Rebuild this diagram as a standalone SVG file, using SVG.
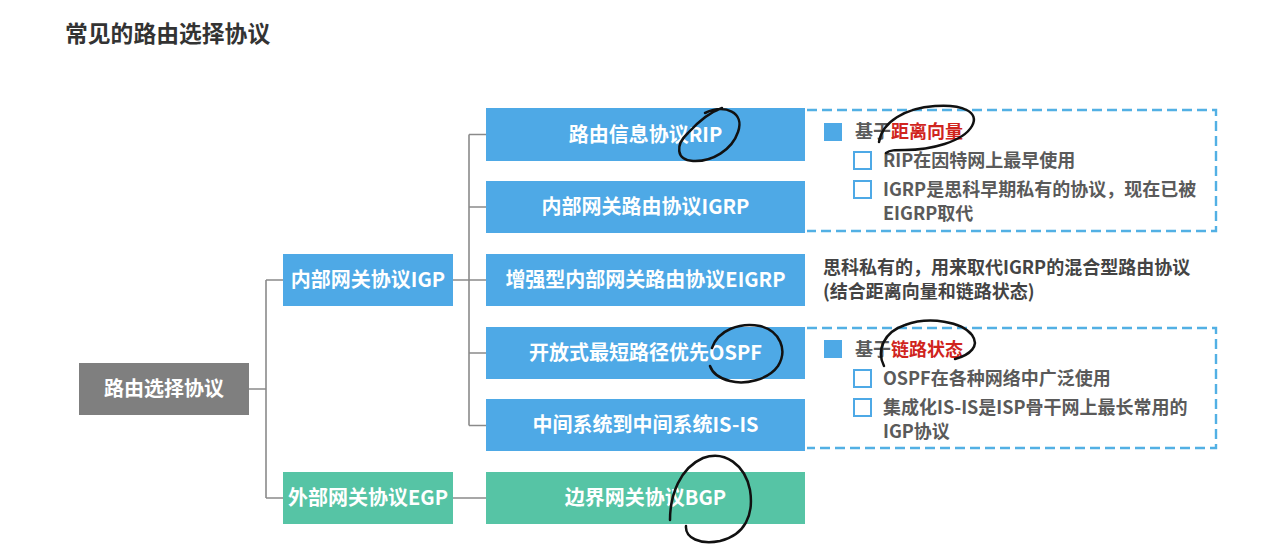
<svg xmlns="http://www.w3.org/2000/svg" width="1280" height="557" viewBox="0 0 1280 557">
<style>
text{font-family:"Noto Sans CJK SC","Noto Sans",sans-serif;font-weight:bold}
.lbl{fill:#ffffff;font-size:20px;text-anchor:middle}
.blue{fill:#4ea9e6}
.teal{fill:#56c4a5}
.note{fill:#5a5a5a;font-size:18px}
.red{fill:#d0241d}
.dash{fill:none;stroke:#52b0e4;stroke-width:2.4;stroke-dasharray:10 5}
.hol{fill:#fff;stroke:#4ea9e6;stroke-width:2}
.ink{fill:none;stroke:#111;stroke-width:2.5;stroke-linecap:round;stroke-linejoin:round}
.con{fill:none;stroke:#8a8a8a;stroke-width:1.6}
</style>
<rect width="1280" height="557" fill="#ffffff"/>
<text x="65" y="42" style="font-size:22.8px;fill:#333">常见的路由选择协议</text>

<g id="connectors">
<path class="con" d="M249,389 H266 M266,280 V498 M266,280 H283 M266,498 H283"/>
<path class="con" d="M453,280 H469 M469,134.5 V425.5 M469,134.5 H486 M469,207 H486 M469,280 H486 M469,353 H486 M469,425.5 H486"/>
<path class="con" d="M453,498 H486"/>
</g>

<g id="root"><rect x="79" y="363" width="170" height="52" fill="#7f7f7f"/><text class="lbl" x="164" y="396">路由选择协议</text></g>
<g id="igp"><rect class="blue" x="283" y="254" width="170" height="52"/><text class="lbl" x="368" y="287">内部网关协议IGP</text></g>
<g id="egp"><rect class="teal" x="283" y="472" width="170" height="52"/><text class="lbl" x="368" y="505">外部网关协议EGP</text></g>

<g id="rip"><rect class="blue" x="486" y="108" width="319" height="53"/><text class="lbl" x="645.5" y="141.5">路由信息协议RIP</text></g>
<g id="igrp"><rect class="blue" x="486" y="181" width="319" height="52"/><text class="lbl" x="645.5" y="214">内部网关路由协议IGRP</text></g>
<g id="eigrp"><rect class="blue" x="486" y="254" width="319" height="52"/><text class="lbl" x="645.5" y="287">增强型内部网关路由协议EIGRP</text></g>
<g id="ospf"><rect class="blue" x="486" y="327" width="319" height="52"/><text class="lbl" x="645.5" y="360">开放式最短路径优先OSPF</text></g>
<g id="isis"><rect class="blue" x="486" y="399" width="319" height="52"/><text class="lbl" x="645.5" y="432">中间系统到中间系统IS-IS</text></g>
<g id="bgp"><rect class="teal" x="486" y="472" width="319" height="52"/><text class="lbl" x="645.5" y="505">边界网关协议BGP</text></g>

<g id="note-dv">
<path class="dash" d="M807,110 H1216 V231 H807"/>
<rect class="blue" x="824" y="123" width="18" height="18"/>
<text class="note" x="855" y="138">基于<tspan class="red">距离向量</tspan></text>
<rect class="hol" x="854" y="152" width="17" height="17"/>
<text class="note" x="883" y="167">RIP在因特网上最早使用</text>
<rect class="hol" x="854" y="181" width="17" height="17"/>
<text class="note" x="883" y="196">IGRP是思科早期私有的协议，现在已被</text>
<text class="note" x="883" y="220">EIGRP取代</text>
</g>

<g id="note-eigrp">
<text style="font-size:18px;fill:#444" x="823" y="274">思科私有的，用来取代IGRP的混合型路由协议</text>
<text style="font-size:18px;fill:#444" x="823" y="298">(结合距离向量和链路状态)</text>
</g>

<g id="note-ls">
<path class="dash" d="M807,328 H1216 V448 H807"/>
<rect class="blue" x="824" y="340" width="18" height="18"/>
<text class="note" x="855" y="356">基于<tspan class="red">链路状态</tspan></text>
<rect class="hol" x="854" y="370" width="17" height="17"/>
<text class="note" x="883" y="385">OSPF在各种网络中广泛使用</text>
<rect class="hol" x="854" y="399" width="17" height="17"/>
<text class="note" x="883" y="414">集成化IS-IS是ISP骨干网上最长常用的</text>
<text class="note" x="883" y="438">IGP协议</text>
</g>

<g id="ink">
<path class="ink" d="M705,113 C725,104 745,112 738,132 C732,150 712,162 693,161 C676,160 675,145 688,133 C698,122 710,112 722,108"/>
<path class="ink" d="M879,142 C882,122 905,108 935,106 C962,104 980,112 972,126 C963,142 930,150 905,150 C895,150 890,150 886,153"/>
<path class="ink" d="M712,348 C718,330 740,322 760,326 C780,331 788,350 778,366 C768,380 745,385 730,381 C718,378 712,372 710,366"/>
<path class="ink" d="M884,366 C876,350 884,332 905,325 C930,316 962,322 972,335 C980,346 970,355 955,359"/>
<path class="ink" d="M670,520 C670,495 680,468 703,458 C725,450 745,465 750,490 C754,515 745,535 720,541 C700,545 685,538 686,526"/>
</g>
</svg>
